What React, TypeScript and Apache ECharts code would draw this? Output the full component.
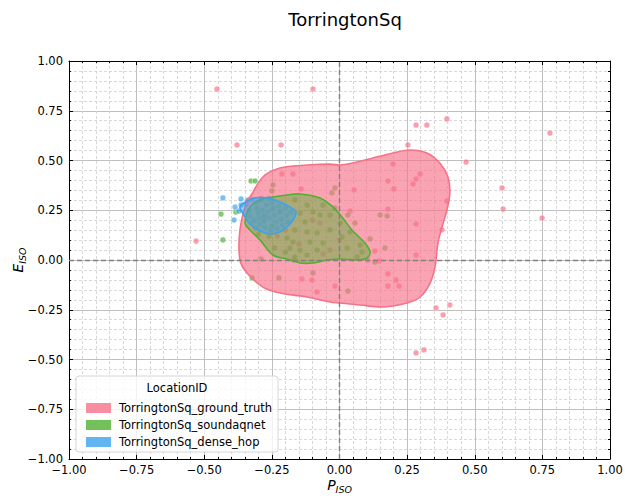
import React, { useEffect, useRef } from "react";
import * as echarts from "echarts";

// Scatter observations per location source (P_ISO, E_ISO)
const groundTruthPoints: [number, number][] = [
  [-0.453, 0.859], [-0.098, 0.859], [-0.379, 0.578], [-0.216, 0.578], [0.253, 0.578],
  [0.283, 0.678], [0.323, 0.678], [0.397, 0.709], [0.778, 0.638], [0.468, 0.492],
  [0.601, 0.362], [0.605, 0.256], [0.749, 0.211], [-0.53, 0.095], [0.357, -0.241],
  [0.383, -0.276], [0.408, -0.226], [0.283, -0.467], [0.312, -0.452],
  [-0.213, 0.432], [-0.172, 0.432], [-0.142, 0.357], [0.198, 0.482], [0.298, 0.432],
  [0.283, 0.407], [0.272, 0.382], [0.179, 0.397], [0.201, 0.357], [0.054, 0.352],
  [0.397, 0.296], [0.179, 0.256], [0.039, 0.246], [0.283, 0.181], [0.379, 0.151],
  [0.283, 0.025], [0.131, 0.045], [0.105, 0.0], [0.146, -0.005], [0.179, -0.07],
  [0.209, -0.101], [0.179, -0.131], [0.22, -0.131], [-0.139, -0.095], [-0.083, -0.161],
  [-0.017, -0.131], [-0.102, -0.101], [-0.072, 0.186], [-0.035, 0.05], [-0.25, 0.25],
  [-0.2, 0.15], [-0.1, 0.2], [0.0, 0.1], [-0.15, 0.08], [-0.28, 0.22], [-0.29, 0.31],
  [-0.06, 0.03], [-0.23, 0.12],
];

const soundaqnetPoints: [number, number][] = [
  [-0.327, 0.397], [-0.312, 0.397], [-0.438, 0.231], [-0.431, 0.101], [-0.323, -0.09],
  [-0.383, 0.241], [-0.246, 0.377], [-0.25, 0.347], [-0.028, 0.337], [-0.017, 0.362],
  [-0.29, 0.005], [-0.224, -0.09], [-0.098, -0.065], [0.031, -0.156], [0.15, 0.226],
  [0.176, 0.221], [0.113, 0.106], [0.168, 0.06], [0.076, 0.075], [0.131, -0.01],
  [-0.17, 0.0], [-0.165, 0.302], [-0.12, 0.276], [-0.098, 0.241], [-0.035, 0.226],
  [-0.072, 0.226], [-0.146, 0.236], [-0.127, 0.191], [-0.12, 0.141], [-0.165, 0.151],
  [-0.083, 0.136], [-0.035, 0.151], [0.009, 0.116], [-0.172, 0.09], [-0.109, 0.09],
  [-0.061, 0.085], [-0.146, 0.05], [-0.083, 0.05], [0.028, 0.06], [0.083, 0.04],
  [0.065, 0.015], [-0.165, 0.015], [-0.12, 0.025], [-0.194, 0.111], [-0.183, 0.06],
  [-0.061, 0.276], [-0.017, 0.261], [0.031, 0.226], [0.057, 0.186], [0.002, 0.186],
  [0.039, 0.141], [-0.28, 0.2], [-0.25, 0.17], [-0.3, 0.25], [-0.22, 0.24],
  [-0.26, 0.12], [-0.3, 0.13], [-0.24, 0.06], [-0.2, 0.04],
];

const denseHopPoints: [number, number][] = [
  [-0.431, 0.312], [-0.364, 0.307], [-0.364, 0.276], [-0.386, 0.266], [-0.372, 0.246],
  [-0.39, 0.201], [-0.345, 0.28], [-0.335, 0.25], [-0.33, 0.22], [-0.32, 0.19],
  [-0.31, 0.29], [-0.305, 0.26], [-0.3, 0.235], [-0.298, 0.21], [-0.295, 0.18],
  [-0.29, 0.3], [-0.285, 0.25], [-0.28, 0.22], [-0.278, 0.195], [-0.275, 0.165],
  [-0.27, 0.275], [-0.265, 0.24], [-0.26, 0.21], [-0.255, 0.15], [-0.25, 0.29],
  [-0.245, 0.26], [-0.24, 0.225], [-0.235, 0.19], [-0.23, 0.16], [-0.225, 0.27],
  [-0.22, 0.245], [-0.215, 0.205], [-0.21, 0.175], [-0.2, 0.26], [-0.195, 0.225],
  [-0.19, 0.19], [-0.18, 0.24], [-0.34, 0.3], [-0.325, 0.305], [-0.315, 0.2],
  [-0.262, 0.31], [-0.31, 0.16],
];

// Density contour outlines (outer level) per source
const groundTruthContour: [number, number][] = [
  [-0.368, 0.151], [-0.342, 0.302], [-0.331, 0.317], [-0.283, 0.417], [-0.22, 0.462],
  [-0.12, 0.477], [-0.035, 0.482], [0.002, 0.477], [0.065, 0.492], [0.124, 0.513],
  [0.198, 0.538], [0.261, 0.553], [0.323, 0.538], [0.371, 0.487], [0.401, 0.417],
  [0.408, 0.337], [0.397, 0.251], [0.379, 0.166], [0.364, 0.085], [0.353, -0.035],
  [0.335, -0.116], [0.298, -0.186], [0.25, -0.216], [0.161, -0.236], [0.076, -0.226],
  [0.002, -0.216], [-0.035, -0.211], [-0.12, -0.186], [-0.22, -0.166], [-0.283, -0.136],
  [-0.342, -0.065], [-0.368, 0.0],
];

const soundaqnetContour: [number, number][] = [
  [-0.349, 0.186], [-0.331, 0.266], [-0.294, 0.302], [-0.246, 0.317], [-0.194, 0.327],
  [-0.146, 0.332], [-0.072, 0.312], [-0.024, 0.266], [0.009, 0.216], [0.046, 0.151],
  [0.094, 0.085], [0.113, 0.04], [0.102, 0.01], [0.065, 0.0], [0.002, 0.005],
  [-0.046, 0.0], [-0.098, -0.015], [-0.146, -0.015], [-0.194, 0.005], [-0.246, 0.025],
  [-0.294, 0.101], [-0.331, 0.151],
];

const denseHopContour: [number, number][] = [
  [-0.368, 0.266], [-0.342, 0.296], [-0.312, 0.312], [-0.268, 0.312], [-0.22, 0.291],
  [-0.183, 0.266], [-0.161, 0.241], [-0.172, 0.201], [-0.194, 0.166], [-0.22, 0.141],
  [-0.257, 0.131], [-0.294, 0.146], [-0.331, 0.181], [-0.353, 0.226],
];

const seriesNames = [
  "TorringtonSq_ground_truth",
  "TorringtonSq_soundaqnet",
  "TorringtonSq_dense_hop",
];
const palette = ["#f77189", "#50b131", "#3ba3ec"];
const fillAlpha = [0.65, 0.45, 0.5];

const FONT = "DejaVu Sans";

const fmt = (v: number) => (v < 0 ? "\u2212" : "") + Math.abs(v).toFixed(2);

function hexA(hex: string, a: number) {
  const r = parseInt(hex.slice(1, 3), 16);
  const g = parseInt(hex.slice(3, 5), 16);
  const b = parseInt(hex.slice(5, 7), 16);
  return `rgba(${r},${g},${b},${a})`;
}

// Filled, outlined contour drawn through the cartesian coordinate system
function contourSeries(name: string, contour: [number, number][], color: string, alpha: number, z: number) {
  return {
    type: "custom",
    name,
    z,
    data: contour,
    itemStyle: { color },
    renderItem: (params: any, api: any) => {
      if (params.dataIndex !== 0) return null;
      const pts = contour.map((p) => api.coord(p));
      return {
        type: "polygon",
        shape: { points: pts, smooth: 0.35 },
        style: { fill: hexA(color, alpha), stroke: color, lineWidth: 1.6 },
      };
    },
  };
}

const scatterSeries = (name: string, pts: [number, number][], color: string) => ({
  type: "scatter",
  name,
  data: pts,
  z: 2,
  symbolSize: 6,
  itemStyle: { color: hexA(color, 0.85), borderColor: "#fff", borderWidth: 0.6 },
});

const subRich = {
  i: { fontFamily: FONT, fontSize: 14, fontStyle: "italic", color: "#000", lineHeight: 18 },
  s: { fontFamily: FONT, fontSize: 9.5, fontStyle: "italic", color: "#000", verticalAlign: "bottom", lineHeight: 12, padding: [4, 0, 0, 0] },
};

export default function App() {
  const ref = useRef<HTMLDivElement>(null);
  useEffect(() => {
    document.body.style.margin = "0";
    if (!ref.current) return;
    const chart = echarts.init(ref.current, null, { renderer: "svg" });

    const axisCommon = {
      min: -1,
      max: 1,
      interval: 0.25,
      axisLine: { show: true, onZero: false, lineStyle: { color: "#000", width: 1 } },
      axisTick: { show: true, inside: true, length: 4, lineStyle: { color: "#000" } },
      minorTick: { show: true, splitNumber: 5, length: 2, lineStyle: { color: "#000" } },
    };

    chart.setOption({
      animation: false,
      title: {
        text: "TorringtonSq",
        left: 340,
        top: 5,
        textAlign: "center",
        textStyle: { fontFamily: FONT, fontSize: 18, fontWeight: "normal", color: "#000" },
      },
      grid: { left: 69, right: 15, top: 61, bottom: 40, containLabel: false, outerBoundsMode: "none" },
      xAxis: [
        {
          ...axisCommon,
          type: "value",
          position: "bottom",
          axisLabel: { formatter: fmt, fontFamily: FONT, fontSize: 11.5, color: "#000", margin: 5 },
          splitLine: { show: true, lineStyle: { color: "#b8b8b8", width: 0.9 } },
          minorSplitLine: { show: true, lineStyle: { color: "#cfcfcf", width: 0.8, type: [3, 2] } },
          name: "{i|P}{s|ISO}",
          nameLocation: "middle",
          nameGap: 17,
          nameMoveOverlap: false,
          nameTextStyle: { rich: subRich },
        },
        {
          ...axisCommon,
          type: "value",
          position: "top",
          axisLabel: { show: false },
          splitLine: { show: false },
        },
      ],
      yAxis: [
        {
          ...axisCommon,
          type: "value",
          position: "left",
          axisLabel: { formatter: fmt, fontFamily: FONT, fontSize: 11.5, color: "#000", margin: 6 },
          splitLine: { show: true, lineStyle: { color: "#b8b8b8", width: 0.9 } },
          minorSplitLine: { show: true, lineStyle: { color: "#cfcfcf", width: 0.8, type: [3, 2] } },
          name: "{i|E}{s|ISO}",
          nameLocation: "middle",
          nameRotate: 90,
          nameGap: 42,
          nameMoveOverlap: false,
          nameTextStyle: { rich: subRich },
        },
        {
          ...axisCommon,
          type: "value",
          position: "right",
          axisLabel: { show: false },
          splitLine: { show: false },
        },
      ],
      legend: {
        orient: "vertical",
        left: 81,
        top: 397,
        itemWidth: 25,
        itemHeight: 10,
        itemGap: 5,
        z: 6,
        textStyle: { fontFamily: FONT, fontSize: 11.5, color: "#000", padding: [0, 0, 0, 3] },
        data: seriesNames.map((n, i) => ({ name: n, icon: "rect", itemStyle: { color: palette[i], borderWidth: 0 } })),
        selectedMode: false,
      },
      graphic: [
        {
          type: "rect",
          z: 5,
          shape: { x: 76, y: 376, width: 202, height: 76, r: 3 },
          style: { fill: "rgba(255,255,255,0.8)", stroke: "#d6d6d6", lineWidth: 1 },
        },
        {
          type: "text",
          z: 6,
          x: 177,
          y: 388,
          style: {
            text: "LocationID",
            fontFamily: FONT,
            fontSize: 11.5,
            fill: "#000",
            align: "center",
            verticalAlign: "middle",
          },
        },
      ],
      series: [
        scatterSeries(seriesNames[0], groundTruthPoints, palette[0]),
        scatterSeries(seriesNames[1], soundaqnetPoints, palette[1]),
        scatterSeries(seriesNames[2], denseHopPoints, palette[2]),
        contourSeries(seriesNames[0], groundTruthContour, palette[0], fillAlpha[0], 3),
        contourSeries(seriesNames[1], soundaqnetContour, palette[1], fillAlpha[1], 4),
        {
          ...contourSeries(seriesNames[2], denseHopContour, palette[2], fillAlpha[2], 5),
          markLine: {
            silent: true,
            symbol: "none",
            label: { show: false },
            lineStyle: { color: "#808080", type: [5, 3], width: 1.4 },
            data: [{ xAxis: 0 }, { yAxis: 0 }],
          },
        },
      ],
    });

    return () => chart.dispose();
  }, []);

  return <div ref={ref} style={{ width: 625, height: 499 }} />;
}
